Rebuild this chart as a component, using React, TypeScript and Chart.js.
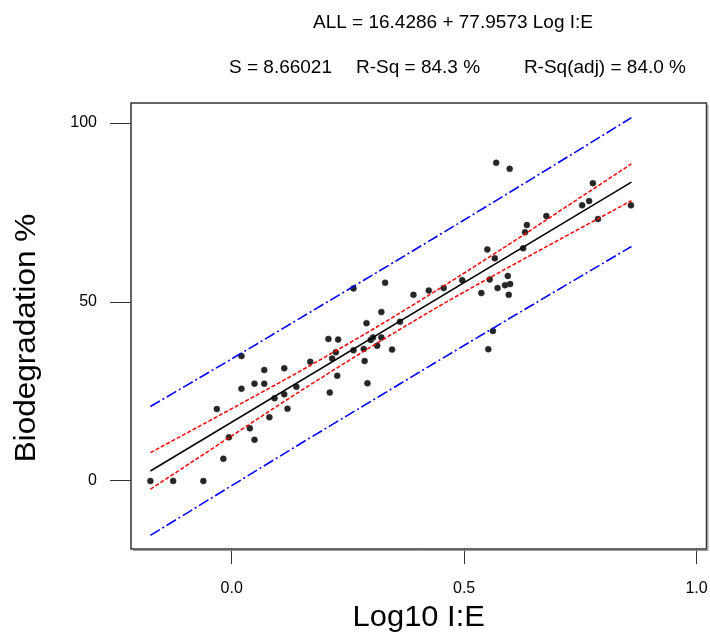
import { useEffect, useRef } from 'react';
import { Chart, registerables } from 'chart.js';

Chart.register(...registerables);

// Observations (Log10 I:E, Biodegradation %)
const logIE = [
  -0.175, -0.126, -0.061, -0.018, -0.032, -0.006, 0.039, 0.049, 0.081, 0.021,
  0.021, 0.049, 0.070, 0.070, 0.092, 0.113, 0.113, 0.120, 0.139, 0.169,
  0.211, 0.208, 0.229, 0.216, 0.224, 0.227, 0.262, 0.284, 0.286, 0.292,
  0.290, 0.299, 0.304, 0.322, 0.313, 0.345, 0.322, 0.362, 0.262, 0.330,
  0.391, 0.424, 0.456, 0.496, 0.537, 0.555, 0.550, 0.566, 0.572, 0.588,
  0.599, 0.594, 0.596, 0.562, 0.552, 0.569, 0.598, 0.627, 0.631, 0.635,
  0.677, 0.754, 0.769, 0.777, 0.788, 0.859,
];
const biodegradation = [
  0, 0, 0, 6.2, 20.1, 12.2, 14.7, 11.5, 17.8, 34.9,
  25.8, 27.2, 27.2, 31.0, 23.1, 24.2, 31.5, 20.2, 26.3, 33.3,
  24.7, 39.7, 39.5, 34.2, 36.0, 29.4, 36.5, 36.9, 33.5, 27.3,
  44.1, 39.4, 40.1, 40.1, 37.8, 36.7, 47.2, 44.5, 53.8, 55.4,
  52.0, 53.2, 53.9, 56.1, 52.5, 56.3, 64.7, 62.2, 53.9, 54.7,
  55.0, 57.3, 52.0, 41.9, 36.8, 88.9, 87.2, 65.0, 69.5, 71.5,
  74.0, 77.0, 78.2, 83.2, 73.2, 77.0,
];

// Regression line (from the printed equation)
const intercept = 16.4286;
const slope = 77.9573;
const fitRange = [-0.175, 0.86];

// Confidence (red) and prediction (blue) bands
const bandX = [-0.175, 0, 0.15, 0.3, 0.45, 0.6, 0.75, 0.86];
const ciUpper = [7.9, 20.2, 30.9, 42.1, 54.0, 66.4, 79.2, 88.6];
const ciLower = [-2.3, 12.6, 25.3, 37.5, 49.1, 60.0, 70.6, 78.3];
const piUpper = [20.8, 34.1, 45.7, 57.3, 69.0, 80.8, 92.7, 101.5];
const piLower = [-15.2, -1.3, 10.6, 22.3, 34.0, 45.6, 57.1, 65.5];

const xTicks = [0, 0.5, 1.0];
const yTicks = [0, 50, 100];

const headerLine1 = 'ALL = 16.4286 + 77.9573 Log I:E';
const headerLine2 = ['S = 8.66021', 'R-Sq = 84.3 %', 'R-Sq(adj) = 84.0 %'];
const xTitle = 'Log10 I:E';
const yTitle = 'Biodegradation %';

const FONT = '"Liberation Sans", Arial, sans-serif';

export default function App() {
  const ref = useRef<HTMLCanvasElement | null>(null);

  useEffect(() => {
    const canvas = ref.current;
    if (!canvas) return;

    const pts = logIE.map((x, i) => ({ x, y: biodegradation[i] }));
    const fit = fitRange.map((x) => ({ x, y: intercept + slope * x }));
    const band = (arr: number[]) => bandX.map((x, i) => ({ x, y: arr[i] }));

    const decor = {
      id: 'decor',
      afterDraw(chart: any) {
        const ctx = chart.ctx;
        const a = chart.chartArea;
        ctx.save();
        // frame
        ctx.strokeStyle = '#9a9a9a';
        ctx.lineWidth = 1;
        ctx.beginPath();
        ctx.moveTo(a.right + 1.5, a.top + 2);
        ctx.lineTo(a.right + 1.5, a.bottom + 1.5);
        ctx.lineTo(a.left + 2, a.bottom + 1.5);
        ctx.stroke();
        ctx.strokeStyle = '#333';
        ctx.lineWidth = 1.5;
        ctx.strokeRect(a.left, a.top, a.right - a.left, a.bottom - a.top);

        ctx.fillStyle = '#000';
        // header
        ctx.font = `19px ${FONT}`;
        ctx.textAlign = 'left';
        ctx.textBaseline = 'alphabetic';
        ctx.fillText(headerLine1, 313, 28);
        ctx.fillText(headerLine2[0], 229, 73);
        ctx.fillText(headerLine2[1], 356, 73);
        ctx.textAlign = 'right';
        ctx.fillText(headerLine2[2], 686, 73);

        // x title
        ctx.save();
        ctx.font = `30px ${FONT}`;
        ctx.textAlign = 'center';
        ctx.translate((a.left + a.right) / 2, 626);
        ctx.scale(1.03, 1);
        ctx.fillText(xTitle, 0, 0);
        ctx.restore();

        // y title
        ctx.save();
        ctx.font = `30px ${FONT}`;
        ctx.textAlign = 'center';
        ctx.translate(35, 338);
        ctx.rotate(-Math.PI / 2);
        ctx.scale(1.05, 1);
        ctx.fillText(yTitle, 0, 0);
        ctx.restore();

        ctx.restore();
      },
    };

    const chart = new Chart(canvas, {
      type: 'scatter',
      data: {
        datasets: [
          {
            label: 'PI upper',
            data: band(piUpper),
            showLine: true,
            borderColor: '#0000ff',
            borderWidth: 1.6,
            borderDash: [11, 3, 2, 3],
            pointRadius: 0,
            fill: false,
          },
          {
            label: 'PI lower',
            data: band(piLower),
            showLine: true,
            borderColor: '#0000ff',
            borderWidth: 1.6,
            borderDash: [11, 3, 2, 3],
            pointRadius: 0,
            fill: false,
          },
          {
            label: 'CI upper',
            data: band(ciUpper),
            showLine: true,
            borderColor: '#ff0000',
            borderWidth: 1.5,
            borderDash: [4, 2],
            pointRadius: 0,
            fill: false,
            cubicInterpolationMode: 'monotone',
          },
          {
            label: 'CI lower',
            data: band(ciLower),
            showLine: true,
            borderColor: '#ff0000',
            borderWidth: 1.5,
            borderDash: [4, 2],
            pointRadius: 0,
            fill: false,
            cubicInterpolationMode: 'monotone',
          },
          {
            label: 'Fit',
            data: fit,
            showLine: true,
            borderColor: '#000',
            borderWidth: 1.5,
            pointRadius: 0,
            fill: false,
          },
          {
            label: 'Observed',
            data: pts,
            showLine: false,
            pointRadius: 3,
            pointHoverRadius: 3,
            pointBackgroundColor: '#262626',
            pointBorderColor: '#262626',
            pointBorderWidth: 0.5,
          },
        ],
      },
      options: {
        animation: false,
        responsive: false,
        devicePixelRatio: 1,
        layout: { padding: { top: 103, right: 2, left: 0, bottom: 0 } },
        plugins: {
          legend: { display: false },
          tooltip: { enabled: false },
          title: { display: false },
        },
        scales: {
          x: {
            type: 'linear',
            min: -0.2167,
            max: 1.0215,
            afterBuildTicks: (s: any) => {
              s.ticks = xTicks.map((v) => ({ value: v }));
            },
            afterFit: (s: any) => {
              s.height = 83;
              s.paddingLeft = 0;
              s.paddingRight = 0;
            },
            grid: {
              drawOnChartArea: false,
              drawTicks: true,
              tickLength: 15,
              color: '#333',
              lineWidth: 1,
            },
            border: { display: false },
            ticks: {
              callback: (v: any) => Number(v).toFixed(1),
              font: { family: FONT, size: 16 },
              color: '#000',
              padding: 15,
              maxRotation: 0,
              autoSkip: false,
            },
          },
          y: {
            type: 'linear',
            min: -19,
            max: 105.6,
            afterBuildTicks: (s: any) => {
              s.ticks = yTicks.map((v) => ({ value: v }));
            },
            afterFit: (s: any) => {
              s.width = 131;
              s.paddingTop = 0;
              s.paddingBottom = 0;
            },
            grid: {
              drawOnChartArea: false,
              drawTicks: true,
              tickLength: 21,
              color: '#333',
              lineWidth: 1,
            },
            border: { display: false },
            ticks: {
              callback: (v: any) => String(v),
              font: { family: FONT, size: 16 },
              color: '#000',
              padding: 13,
              autoSkip: false,
            },
          },
        },
      },
      plugins: [decor],
    });

    return () => chart.destroy();
  }, []);

  return (
    <div style={{ position: 'fixed', left: 0, top: 0, width: 710, height: 632, background: '#fff' }}>
      <canvas ref={ref} width={710} height={632} style={{ width: 710, height: 632, display: 'block' }} />
    </div>
  );
}
